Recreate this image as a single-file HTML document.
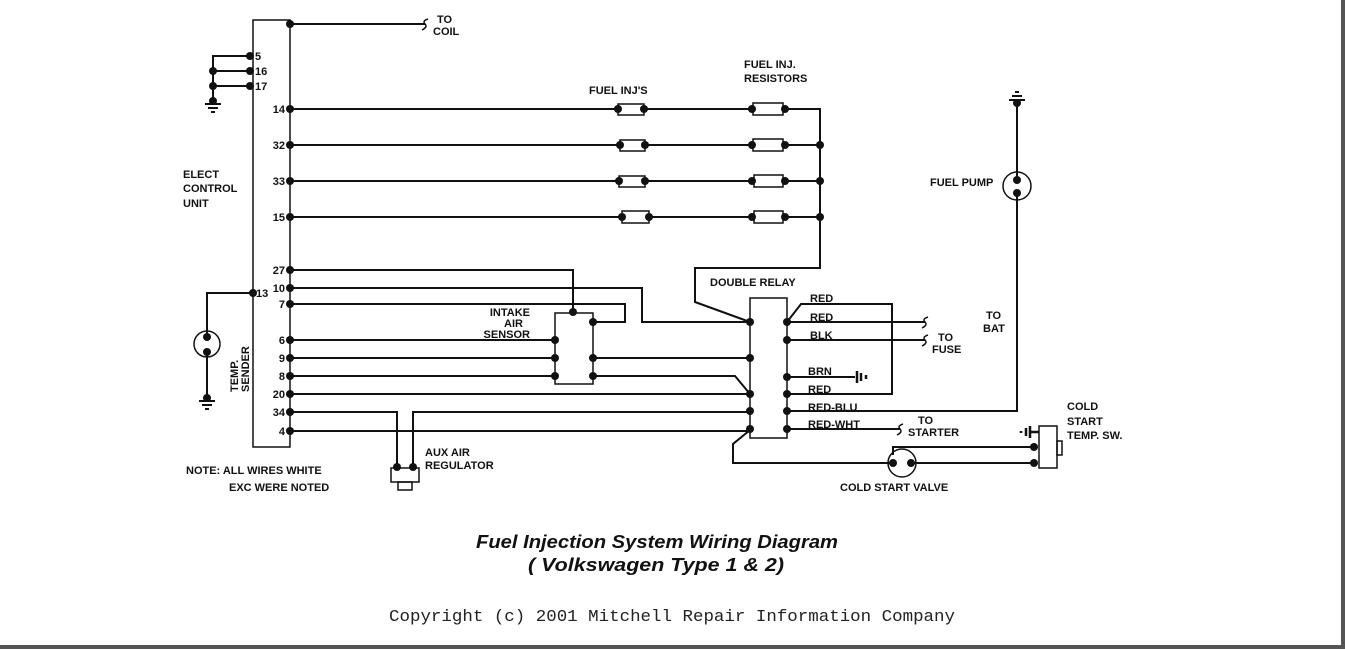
<!DOCTYPE html>
<html><head><meta charset="utf-8"><style>
html,body{margin:0;padding:0;background:#fff;}
svg{display:block;}
text{font-family:"Liberation Sans",sans-serif;font-weight:bold;font-size:11px;fill:#111;}
</style></head><body>
<svg width="1345" height="649" viewBox="0 0 1345 649" xmlns="http://www.w3.org/2000/svg">
<rect x="0" y="0" width="1345" height="649" fill="#fff"/>
<rect x="1341" y="0" width="4" height="649" fill="#555"/>
<rect x="0" y="645" width="1345" height="4" fill="#555"/>
<g stroke="#111" stroke-width="2" fill="none">
<rect x="253" y="20" width="37" height="427" stroke-width="1.5"/>
<path d="M290 24 H425"/>
<path d="M428 19 q-6 2 -3 5 q3 3 -3 6" stroke-width="1.5"/>
<path d="M250 56 H213 V101 M213 71 H250 M213 86 H250"/>
<path d="M205 104 H221 M208 108 H218 M211 112 H215"/>
<path d="M290 109 H752 M784 109 H820 V268 H695 V302 L750 322"/>
<path d="M290 145 H752 M784 145 H820"/>
<path d="M290 181 H752 M784 181 H820"/>
<path d="M290 217 H752 M784 217 H820"/>
<path d="M290 270 H573 V312"/>
<path d="M290 288 H642 V322 H750"/>
<path d="M290 304 H625 V322 H593"/>
<path d="M290 340 H555 M290 358 H555 M290 376 H555"/>
<path d="M593 358 H750 M593 376 H735 L750 394"/>
<path d="M290 394 H750"/>
<path d="M290 412 H397 V467 M413 467 V412 H750"/>
<path d="M290 431 H750"/>
<path d="M750 430 L733 444 V463 H893"/>
<rect x="555" y="313" width="38" height="71" stroke-width="1.5"/>
<rect x="391" y="468" width="28" height="14" stroke-width="1.5"/>
<rect x="398" y="482" width="14" height="8" stroke-width="1.5"/>
<rect x="750" y="298" width="37" height="140" stroke-width="1.5"/>
<path d="M787 322 L801 304 H892 V394 H787"/>
<path d="M787 322 H925 M787 340 H925 M787 377 H855 M787 411 H1017 V193 M787 429 H900"/>
<path d="M928 317 q-6 2 -3 5 q3 3 -3 6 M928 335 q-6 2 -3 5 q3 3 -3 6 M903 424 q-6 2 -3 5 q3 3 -3 6" stroke-width="1.5"/>
<path d="M857 371 V383 M861 373 V381 M866 375 V379" stroke-width="2.5"/>
<circle cx="1017" cy="186" r="14" stroke-width="1.5"/>
<path d="M1017 180 V103"/>
<path d="M1009 100 H1025 M1012 96 H1022 M1015 92 H1019"/>
<path d="M253 293 H207 V337 M207 352 V398"/>
<circle cx="207" cy="344" r="13" stroke-width="1.5"/>
<path d="M199 401 H215 M202 405 H212 M205 409 H209"/>
<circle cx="902" cy="463" r="14" stroke-width="1.5"/>
<path d="M893 455 V447 H1033 M911 463 H1033"/>
<rect x="1039" y="426" width="18" height="42" stroke-width="1.5"/>
<rect x="1057" y="441" width="5" height="14" stroke-width="1.5"/>
<path d="M1039 432 H1030 M1030 426 V438 M1026 428 V436 M1021 431 V433" stroke-width="2.5"/>
</g>
<g fill="#fff" stroke="#111" stroke-width="1.5">
<rect x="618" y="104" width="26" height="11"/>
<rect x="620" y="140" width="25" height="11"/>
<rect x="619" y="176" width="26" height="11"/>
<rect x="622" y="211" width="27" height="12"/>
<rect x="753" y="103" width="30" height="12"/>
<rect x="753" y="139" width="30" height="12"/>
<rect x="754" y="175" width="29" height="12"/>
<rect x="754" y="211" width="29" height="12"/>
</g>
<g fill="#111">
<circle cx="290" cy="24" r="4"/>
<circle cx="250" cy="56" r="4"/><circle cx="250" cy="71" r="4"/><circle cx="250" cy="86" r="4"/>
<circle cx="213" cy="71" r="4"/><circle cx="213" cy="86" r="4"/><circle cx="213" cy="101" r="4"/>
<circle cx="290" cy="109" r="4"/><circle cx="290" cy="145" r="4"/><circle cx="290" cy="181" r="4"/><circle cx="290" cy="217" r="4"/>
<circle cx="618" cy="109" r="4"/><circle cx="644" cy="109" r="4"/>
<circle cx="620" cy="145" r="4"/><circle cx="645" cy="145" r="4"/>
<circle cx="619" cy="181" r="4"/><circle cx="645" cy="181" r="4"/>
<circle cx="622" cy="217" r="4"/><circle cx="649" cy="217" r="4"/>
<circle cx="752" cy="109" r="4"/><circle cx="785" cy="109" r="4"/>
<circle cx="752" cy="145" r="4"/><circle cx="785" cy="145" r="4"/>
<circle cx="752" cy="181" r="4"/><circle cx="785" cy="181" r="4"/>
<circle cx="752" cy="217" r="4"/><circle cx="785" cy="217" r="4"/>
<circle cx="820" cy="145" r="4"/><circle cx="820" cy="181" r="4"/><circle cx="820" cy="217" r="4"/>
<circle cx="290" cy="270" r="4"/><circle cx="290" cy="288" r="4"/><circle cx="290" cy="304" r="4"/>
<circle cx="290" cy="340" r="4"/><circle cx="290" cy="358" r="4"/><circle cx="290" cy="376" r="4"/>
<circle cx="290" cy="394" r="4"/><circle cx="290" cy="412" r="4"/><circle cx="290" cy="431" r="4"/>
<circle cx="253" cy="293" r="4"/>
<circle cx="573" cy="312" r="4"/><circle cx="593" cy="322" r="4"/>
<circle cx="555" cy="340" r="4"/><circle cx="555" cy="358" r="4"/><circle cx="555" cy="376" r="4"/>
<circle cx="593" cy="358" r="4"/><circle cx="593" cy="376" r="4"/>
<circle cx="397" cy="467" r="4"/><circle cx="413" cy="467" r="4"/>
<circle cx="750" cy="322" r="4"/><circle cx="750" cy="358" r="4"/><circle cx="750" cy="394" r="4"/><circle cx="750" cy="411" r="4"/><circle cx="750" cy="429" r="4"/>
<circle cx="787" cy="322" r="4"/><circle cx="787" cy="340" r="4"/><circle cx="787" cy="377" r="4"/><circle cx="787" cy="394" r="4"/><circle cx="787" cy="411" r="4"/><circle cx="787" cy="429" r="4"/>
<circle cx="1017" cy="180" r="4"/><circle cx="1017" cy="193" r="4"/><circle cx="1017" cy="103" r="4"/>
<circle cx="207" cy="337" r="4"/><circle cx="207" cy="352" r="4"/><circle cx="207" cy="398" r="4"/>
<circle cx="893" cy="463" r="4"/><circle cx="911" cy="463" r="4"/>
<circle cx="1034" cy="447" r="4"/><circle cx="1034" cy="463" r="4"/>
</g>
<text x="437" y="23">TO</text><text x="433" y="35">COIL</text>
<text x="255" y="60">5</text><text x="255" y="75">16</text><text x="255" y="90">17</text>
<g text-anchor="end">
<text x="285" y="113">14</text><text x="285" y="149">32</text><text x="285" y="185">33</text><text x="285" y="221">15</text>
<text x="285" y="274">27</text><text x="285" y="292">10</text><text x="285" y="308">7</text>
<text x="285" y="344">6</text><text x="285" y="362">9</text><text x="285" y="380">8</text>
<text x="285" y="398">20</text><text x="285" y="416">34</text><text x="285" y="435">4</text>
<text x="530" y="316">INTAKE</text><text x="523" y="327">AIR</text><text x="530" y="338">SENSOR</text>
</g>
<text x="256" y="297">13</text>
<text x="183" y="178">ELECT</text><text x="183" y="192">CONTROL</text><text x="183" y="207">UNIT</text>
<text x="589" y="94">FUEL INJ'S</text>
<text x="744" y="68">FUEL INJ.</text><text x="744" y="82">RESISTORS</text>
<text x="930" y="186">FUEL PUMP</text>
<text x="710" y="286">DOUBLE RELAY</text>
<g style="font-weight:normal">
<text x="810" y="302">RED</text><text x="810" y="321">RED</text><text x="810" y="339">BLK</text>
<text x="808" y="375">BRN</text><text x="808" y="393">RED</text><text x="808" y="411">RED-BLU</text><text x="808" y="428">RED-WHT</text>
</g>
<text x="986" y="319">TO</text><text x="983" y="332">BAT</text>
<text x="938" y="341">TO</text><text x="932" y="353">FUSE</text>
<text x="918" y="424">TO</text><text x="908" y="436">STARTER</text>
<text x="1067" y="410">COLD</text><text x="1067" y="425">START</text><text x="1067" y="439">TEMP. SW.</text>
<text x="840" y="491">COLD START VALVE</text>
<text x="425" y="456">AUX AIR</text><text x="425" y="469">REGULATOR</text>
<text x="186" y="474">NOTE: ALL WIRES WHITE</text><text x="229" y="491">EXC WERE NOTED</text>
<text transform="translate(249,392) rotate(-90)" x="0" y="0">SENDER</text>
<text transform="translate(238,392) rotate(-90)" x="0" y="0">TEMP.</text>
<text x="476" y="548" textLength="362" lengthAdjust="spacingAndGlyphs" style="font-size:18px;font-style:italic">Fuel Injection System Wiring Diagram</text>
<text x="528" y="571" textLength="256" lengthAdjust="spacingAndGlyphs" style="font-size:18px;font-style:italic">( Volkswagen Type 1 &amp; 2)</text>
<text x="389" y="621" textLength="566" lengthAdjust="spacingAndGlyphs" style="font-family:'Liberation Mono',monospace;font-weight:normal;font-size:17px;fill:#222">Copyright (c) 2001 Mitchell Repair Information Company</text>
</svg>
</body></html>
